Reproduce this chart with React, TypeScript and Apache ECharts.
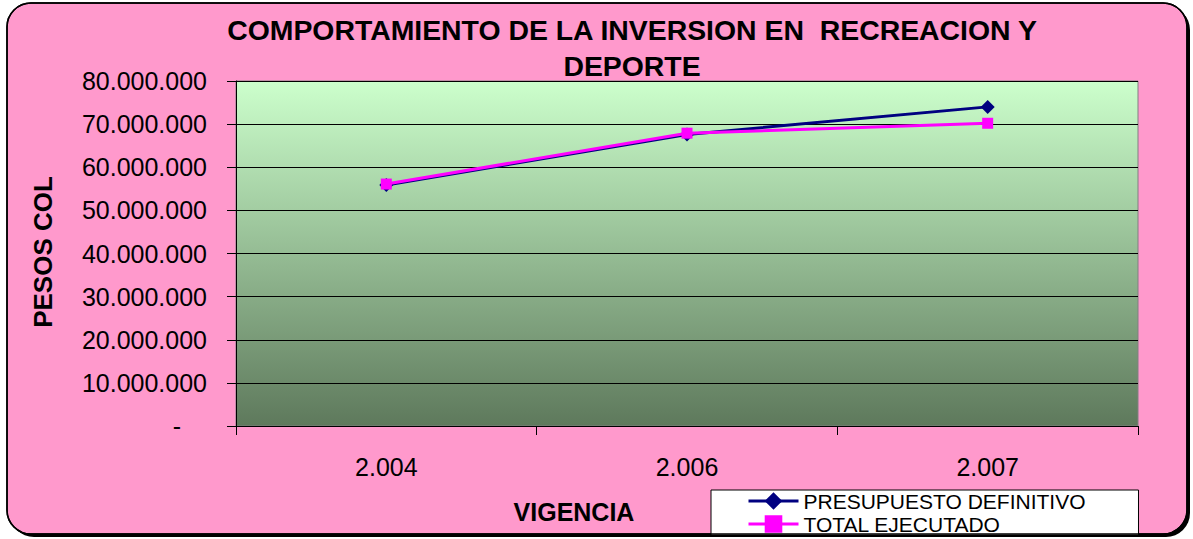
import { useEffect, useRef } from 'react';
import * as echarts from 'echarts';

const categories = ['2.004', '2.006', '2.007'];
const presupuestoDefinitivo = [55900000, 67600000, 74000000];
const totalEjecutado = [56100000, 67900000, 70200000];
const seriesNames = ['PRESUPUESTO DEFINITIVO', 'TOTAL EJECUTADO'];
const yMin = 0;
const yMax = 80000000;
const yInterval = 10000000;
const titleText = 'COMPORTAMIENTO DE LA INVERSION EN  RECREACION Y\nDEPORTE';
const yAxisName = 'PESOS COL';
const xAxisName = 'VIGENCIA';

const FONT = '"Liberation Sans", Arial, sans-serif';

function fmt(v: number): string {
  if (v === 0) return '{z|-}';
  return String(Math.round(v)).replace(/\B(?=(\d{3})+(?!\d))/g, '.');
}

export default function App() {
  const ref = useRef<HTMLDivElement>(null);
  useEffect(() => {
    if (!ref.current) return;
    const chart = echarts.init(ref.current, null, { renderer: 'svg' });
    chart.setOption({
      animation: false,
      backgroundColor: '#ffffff',
      textStyle: { fontFamily: FONT },
      graphic: [
        {
          type: 'rect', z: -20, silent: true,
          shape: { x: 10, y: 6, width: 1180, height: 531, r: 24 },
          style: { fill: '#000000' },
        },
        {
          type: 'rect', z: -10, silent: true,
          shape: { x: 7, y: 3, width: 1180, height: 531, r: 24 },
          style: { fill: '#FF99CC', stroke: '#000000', lineWidth: 1.5 },
        },
        {
          type: 'rect', z: 100, silent: true,
          shape: { x: 7, y: 3, width: 1180, height: 531, r: 24 },
          style: { fill: 'none', stroke: '#000000', lineWidth: 1.5 },
        },
        {
          type: 'text', z: 10, x: 632, y: 12,
          style: {
            text: titleText, fill: '#000', font: `bold 28.4px ${FONT}`,
            align: 'center', verticalAlign: 'top', lineHeight: 36,
          },
        },
        {
          type: 'text', z: 10, x: 43, y: 252, rotation: Math.PI / 2,
          style: {
            text: yAxisName, fill: '#000', font: `bold 26px ${FONT}`,
            align: 'center', verticalAlign: 'middle',
          },
        },
        {
          type: 'text', z: 10, x: 574, y: 512,
          style: {
            text: xAxisName, fill: '#000', font: `bold 25px ${FONT}`,
            align: 'center', verticalAlign: 'middle',
          },
        },
      ],
      grid: {
        left: 236, right: 55, top: 81, bottom: 113,
        show: true,
        borderColor: '#808080', borderWidth: 1,
        backgroundColor: new echarts.graphic.LinearGradient(0, 0, 0, 1, [
          { offset: 0, color: '#CCFFCC' },
          { offset: 1, color: '#5E795C' },
        ]),
      },
      legend: {
        left: 711, top: 490, orient: 'vertical',
        backgroundColor: '#ffffff', borderColor: '#000000', borderWidth: 1,
        padding: [0, 53, 0, 36], itemGap: 1,
        itemWidth: 50, itemHeight: 22,
        textStyle: { fontSize: 21, color: '#000', fontFamily: FONT, lineHeight: 22 },
        lineStyle: { width: 3 },
        data: seriesNames,
      },
      xAxis: {
        type: 'category', data: categories, boundaryGap: true,
        axisLine: { show: true, lineStyle: { color: '#000', width: 1 } },
        axisTick: { show: true, length: 9, lineStyle: { color: '#000' } },
        axisLabel: { fontSize: 25, color: '#000', margin: 28, fontFamily: FONT },
        splitLine: { show: false },
      },
      yAxis: {
        type: 'value', min: yMin, max: yMax, interval: yInterval,
        axisLine: { show: true, lineStyle: { color: '#000', width: 1 } },
        axisTick: { show: true, length: 9, lineStyle: { color: '#000' } },
        axisLabel: {
          fontSize: 25, color: '#000', margin: 29, fontFamily: FONT,
          formatter: fmt,
          rich: { z: { fontSize: 25, color: '#000', padding: [0, 26, 0, 0], fontFamily: FONT } },
        },
        splitLine: { show: true, lineStyle: { color: '#000', width: 1 } },
      },
      series: [
        {
          name: seriesNames[0], type: 'line', data: presupuestoDefinitivo,
          symbol: 'diamond', symbolSize: 14, z: 3,
          lineStyle: { color: '#000080', width: 3 },
          itemStyle: { color: '#000080' },
        },
        {
          name: seriesNames[1], type: 'line', data: totalEjecutado,
          symbol: 'rect', symbolSize: 11, z: 4,
          lineStyle: { color: '#FF00FF', width: 3 },
          itemStyle: { color: '#FF00FF' },
        },
      ],
    });
    return () => chart.dispose();
  }, []);
  return (
    <div
      ref={ref}
      style={{ position: 'fixed', left: 0, top: 0, width: 1193, height: 539 }}
    />
  );
}
